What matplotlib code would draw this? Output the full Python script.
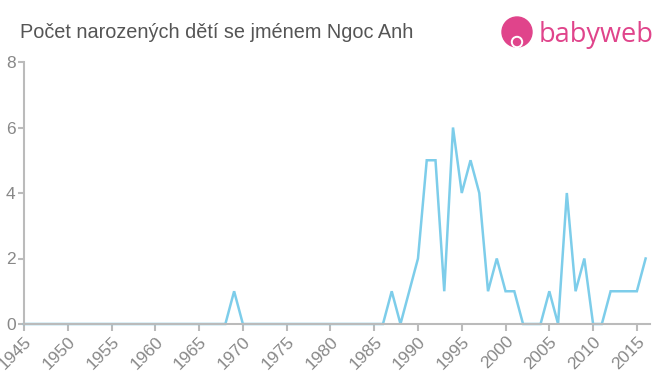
import matplotlib
matplotlib.use("Agg")
import matplotlib.pyplot as plt
from matplotlib.patches import Circle

plt.rcParams["font.family"] = ["Liberation Sans", "DejaVu Sans"]

years = list(range(1945, 2017))
counts_known = {1969: 1, 1987: 1, 1989: 1, 1990: 2, 1991: 5, 1992: 5, 1993: 1,
                1994: 6, 1995: 4, 1996: 5, 1997: 4, 1998: 1, 1999: 2, 2000: 1,
                2001: 1, 2005: 1, 2007: 4, 2008: 1, 2009: 2, 2012: 1, 2013: 1,
                2014: 1, 2015: 1, 2016: 2}
counts = [counts_known.get(y, 0) for y in years]
xticks = list(range(1945, 2016, 5))
yticks = [0, 2, 4, 6, 8]
title = "Počet narozených dětí se jménem Ngoc Anh"

fig = plt.figure(figsize=(6.6, 3.75), dpi=100)
ax = fig.add_axes([24/660, 1-324/375, (650-24)/660, (324-62)/375])
ax.plot(years, counts, color="#7dcdea", lw=1.8, solid_joinstyle="miter", clip_on=False)
ax.set_xlim(1945, 2016.5)
ax.set_ylim(0, 8)
ax.set_xticks(xticks)
ax.set_xticklabels([str(x) for x in xticks], rotation=45, ha="right", rotation_mode="anchor",
                   fontsize=12.5, color="#888888")
ax.set_yticks(yticks)
ax.set_yticklabels([str(y) for y in yticks], fontsize=12.5, color="#888888")
for s in ["top", "right"]:
    ax.spines[s].set_visible(False)
for s in ["left", "bottom"]:
    ax.spines[s].set_color("#bbbbbb")
    ax.spines[s].set_linewidth(1.5)
ax.tick_params(axis="x", length=5, width=1.5, color="#bbbbbb", pad=2)
ax.tick_params(axis="y", length=4, width=1.5, color="#bbbbbb", pad=2)

fig.text(20/660, 1-32/375, title, fontsize=14.3, color="#555555", va="center", ha="left")

# logo
pink = "#e0448b"
lax = fig.add_axes([0, 0, 1, 1], facecolor="none")
lax.set_xlim(0, 660); lax.set_ylim(375, 0); lax.axis("off")
lax.add_patch(Circle((517, 32), 15, color=pink))
lax.add_patch(Circle((517, 42), 5.5, color="white"))
lax.add_patch(Circle((517, 42), 3.5, color=pink))
lax.text(539, 35, "babyweb", fontsize=19.5, color=pink, va="center", ha="left",
         family=["Open Sans", "DejaVu Sans"])

fig.savefig("out.png", dpi=100)
